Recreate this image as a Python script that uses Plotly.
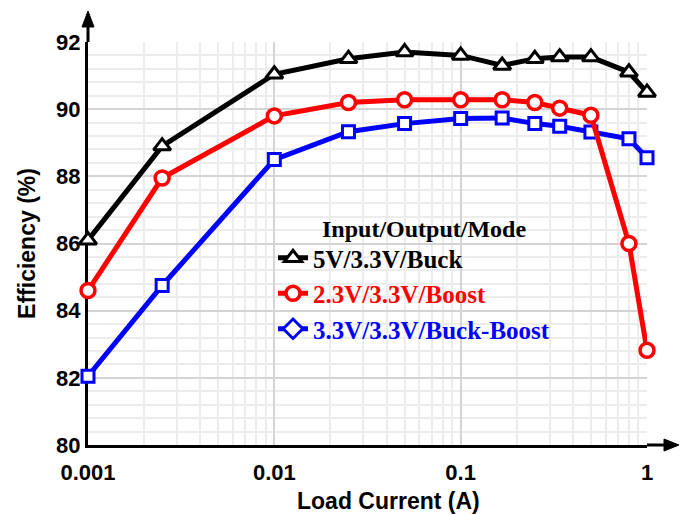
import plotly.graph_objects as go

# ---- data ----
load_current = [0.001, 0.0025, 0.01, 0.025, 0.05, 0.1, 0.167, 0.25, 0.34, 0.5, 0.8, 1.0]
eff_buck = [86.1, 88.9, 91.04, 91.5, 91.7, 91.6, 91.3, 91.5, 91.55, 91.55, 91.1, 90.5]
eff_boost = [84.6, 87.95, 89.8, 90.2, 90.28, 90.28, 90.28, 90.2, 90.03, 89.82, 86.0, 82.82]
eff_buckboost = [82.05, 84.75, 88.5, 89.33, 89.57, 89.72, 89.74, 89.57, 89.49, 89.32, 89.12, 88.55]

names = ["5V/3.3V/Buck", "2.3V/3.3V/Boost", "3.3V/3.3V/Buck-Boost"]
legend_title = "Input/Output/Mode"
x_title = "Load Current (A)"
y_title = "Efficiency (%)"
x_ticks = [0.001, 0.01, 0.1, 1]
x_ticktext = ["0.001", "0.01", "0.1", "1"]
x_minor = [k * 10.0 ** e for e in (-3, -2, -1) for k in range(2, 10)]

BLACK, RED, BLUE = "#000000", "#ff0000", "#0000ff"
serif = "Liberation Serif, Times New Roman, serif"
sans = "Liberation Sans, Arial, sans-serif"

fig = go.Figure()
fig.add_trace(go.Scatter(
    x=load_current, y=eff_buck, mode="lines+markers",
    name=f"<span style='color:{BLACK}'>{names[0]}</span>",
    line=dict(color=BLACK, width=5),
    marker=dict(symbol="triangle-up", size=15, color="white", line=dict(color=BLACK, width=3)),
    cliponaxis=False))
fig.add_trace(go.Scatter(
    x=load_current, y=eff_buckboost, mode="lines+markers", showlegend=False,
    line=dict(color=BLUE, width=5),
    marker=dict(symbol="square", size=12, color="white", line=dict(color=BLUE, width=3)),
    cliponaxis=False))
fig.add_trace(go.Scatter(
    x=load_current, y=eff_boost, mode="lines+markers",
    name=f"<span style='color:{RED}'>{names[1]}</span>",
    line=dict(color=RED, width=5),
    marker=dict(symbol="circle", size=14, color="white", line=dict(color=RED, width=3.5)),
    cliponaxis=False))
# legend entry for the blue series (diamond symbol in the legend)
fig.add_trace(go.Scatter(
    x=[None], y=[None], mode="lines+markers",
    name=f"<span style='color:{BLUE}'>{names[2]}</span>",
    line=dict(color=BLUE, width=5),
    marker=dict(symbol="diamond", size=15, color="white", line=dict(color=BLUE, width=3))))

L, R, T, B = 88, 43, 42, 69
W, H = 690, 514
pw, ph = W - L - R, H - T - B

def px_x(p):
    return (p - L) / pw

def px_y(p):
    return (H - B - p) / ph

fig.update_layout(
    width=W, height=H,
    margin=dict(l=L, r=R, t=T, b=B),
    paper_bgcolor="white", plot_bgcolor="white",
    showlegend=True,
    legend=dict(
        x=px_x(273), y=px_y(235), xanchor="left", yanchor="top",
        bgcolor="rgba(0,0,0,0)",
        font=dict(family=serif, size=25, weight="bold", color=BLACK),
        tracegroupgap=0,
    ),
    xaxis=dict(
        type="log", range=[-3, 0],
        tickmode="array", tickvals=x_ticks, ticktext=x_ticktext,
        tickfont=dict(family=sans, size=22, weight="bold", color=BLACK),
        ticklabelstandoff=6,
        showgrid=True, gridcolor="#d4d4d4", gridwidth=2,
        minor=dict(tickmode="array", tickvals=x_minor, showgrid=True,
                   gridcolor="#ececec", gridwidth=2, ticks=""),
        showline=True, linecolor=BLACK, linewidth=3,
        ticks="", zeroline=False, layer="below traces",
    ),
    yaxis=dict(
        range=[80, 92], tickmode="linear", tick0=80, dtick=2,
        tickfont=dict(family=sans, size=22, weight="bold", color=BLACK),
        showgrid=True, gridcolor="#d4d4d4", gridwidth=2,
        minor=dict(tickmode="linear", tick0=80, dtick=0.4, showgrid=True,
                   gridcolor="#ececec", gridwidth=2, ticks=""),
        showline=True, linecolor=BLACK, linewidth=3,
        ticks="", zeroline=False, layer="below traces",
        title=dict(text=y_title, standoff=15,
                   font=dict(family=sans, size=23, weight="bold", color=BLACK)),
    ),
)

# axis arrow extensions (pixels converted to paper coords)
fig.add_shape(type="line", xref="paper", yref="paper",
              x0=1, x1=px_x(668), y0=0, y1=0, line=dict(color=BLACK, width=3))
fig.add_shape(type="path", xref="paper", yref="paper",
              path=f"M {px_x(664)} {px_y(H-B-6)} L {px_x(679)} {px_y(H-B)} L {px_x(664)} {px_y(H-B+6)} Z",
              fillcolor=BLACK, line=dict(color=BLACK, width=1))
fig.add_shape(type="line", xref="paper", yref="paper",
              x0=0, x1=0, y0=1, y1=px_y(22), line=dict(color=BLACK, width=3))
fig.add_shape(type="path", xref="paper", yref="paper",
              path=f"M {px_x(L-6)} {px_y(27)} L {px_x(L)} {px_y(11)} L {px_x(L+6)} {px_y(27)} Z",
              fillcolor=BLACK, line=dict(color=BLACK, width=1))

fig.add_annotation(text=legend_title, xref="paper", yref="paper",
                   x=px_x(424), y=px_y(229), showarrow=False,
                   xanchor="center", yanchor="middle",
                   font=dict(family=serif, size=24, weight="bold", color=BLACK))
fig.add_annotation(text=x_title, xref="paper", yref="paper",
                   x=px_x(388), y=px_y(501), showarrow=False,
                   xanchor="center", yanchor="middle",
                   font=dict(family=sans, size=23, weight="bold", color=BLACK))

fig.write_html("out.html")
